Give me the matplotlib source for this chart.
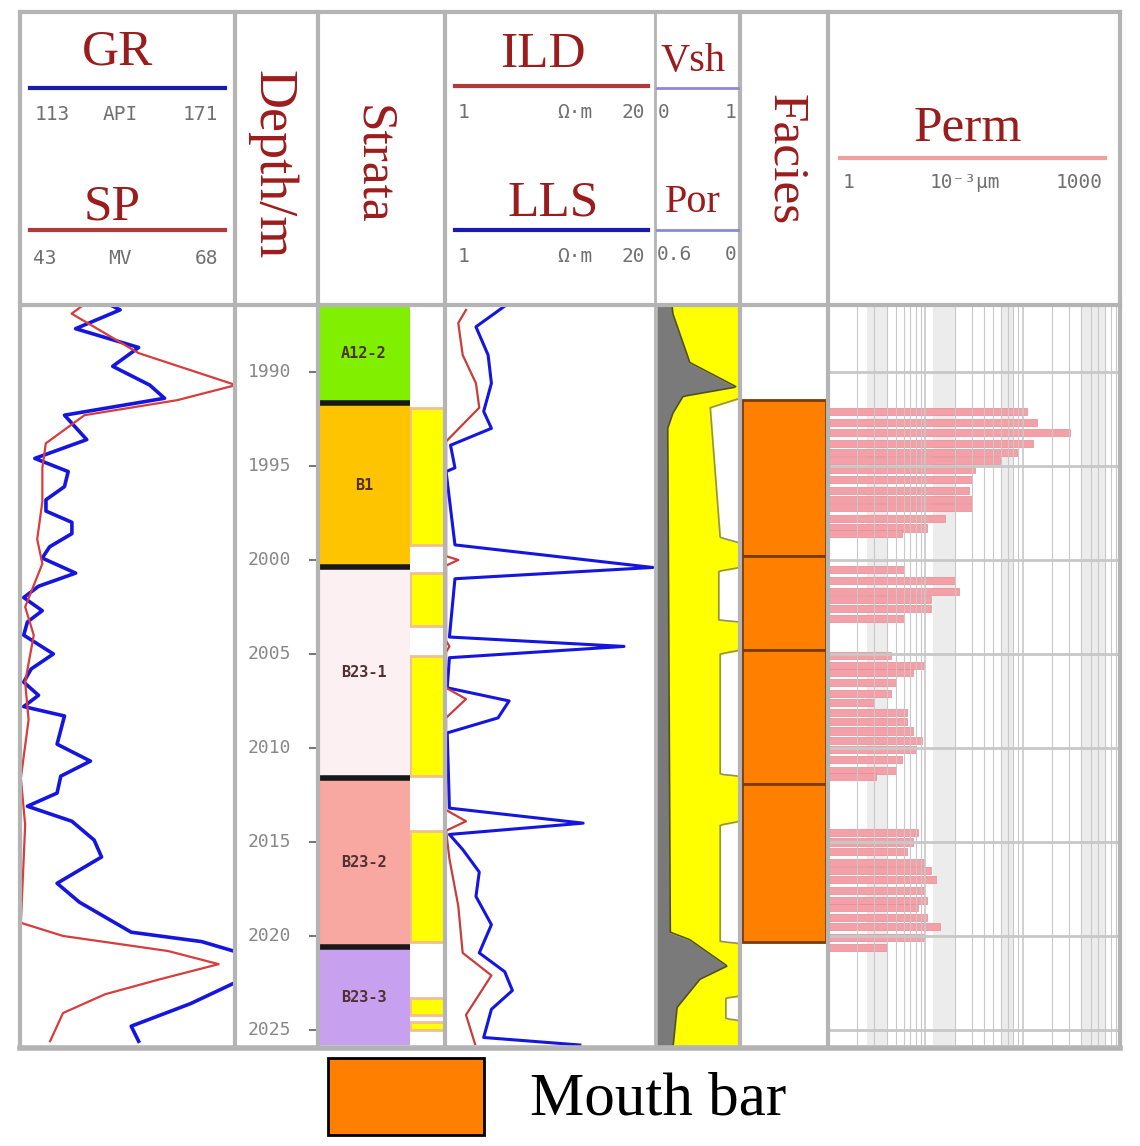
import numpy as np
import matplotlib.pyplot as plt
from matplotlib.lines import Line2D
from matplotlib.patches import Rectangle

# ---- data ----
gr_depth = [1986.5, 1986.7, 1987.7, 1988.7, 1989.7, 1990.7, 1991.4, 1992.3, 1993.6, 1994.6, 1995.3,
            1996.1, 1996.8, 1997.4, 1998.0, 1998.6, 1999.3, 1999.9, 2000.7, 2001.4, 2002.0, 2002.7,
            2003.3, 2004.0, 2005.0, 2005.8, 2006.5, 2007.2, 2007.8, 2008.3, 2009.8, 2010.7, 2011.5,
            2012.4, 2013.1, 2013.9, 2014.9, 2015.8, 2017.2, 2018.2, 2019.8, 2020.3, 2021.0, 2022.3,
            2023.6, 2024.8, 2025.6]
gr_api = [138, 140, 128, 145, 138, 148, 152, 125, 131, 117, 126,
          125, 120, 120, 127, 127, 121, 119, 128, 118, 114, 119,
          115, 114, 122, 116, 114, 118, 114, 125, 123, 132, 124,
          123, 115, 127, 133, 135, 123, 129, 143, 162, 174, 173,
          159, 143, 145]
sp_depth = [1986.4, 1986.9, 1989.0, 1990.7, 1991.5, 1992.3, 1993.8, 1995.1, 1996.9, 1998.9, 2000.2,
            2002.5, 2004.0, 2006.5, 2008.5, 2011.6, 2014.1, 2019.3, 2020.0, 2020.8, 2021.5, 2022.3,
            2023.1, 2024.1, 2025.6]
sp_mv = [50.5, 49.0, 56.8, 68.1, 61.3, 50.5, 46.0, 45.6, 45.6, 45.0, 45.6,
         43.6, 44.6, 43.6, 44.0, 43.1, 43.6, 43.1, 48.0, 60.2, 66.1, 59.3,
         52.9, 48.0, 46.5]
lls_depth = [1986.5, 1987.6, 1989.1, 1990.6, 1992.1, 1993.0, 1993.9, 1995.1, 1995.3, 1999.2,
             2000.4, 2001.0, 2004.1, 2004.6, 2005.2, 2006.8, 2007.5, 2008.4, 2009.2, 2013.2,
             2014.0, 2014.6, 2015.4, 2016.6, 2017.9, 2019.4, 2020.9, 2021.9, 2022.9, 2023.9,
             2025.4, 2025.8]
lls_ohm = [6.4, 3.8, 4.9, 5.2, 4.5, 5.2, 1.5, 1.9, 1.1, 1.9,
           19.8, 1.9, 1.4, 17.2, 1.4, 1.2, 6.8, 5.8, 1.2, 1.4,
           13.5, 1.4, 2.6, 4.1, 3.8, 5.2, 4.1, 6.4, 7.1, 5.2,
           4.5, 13.2]
ild_depth = [1986.7, 1987.4, 1989.1, 1990.6, 1991.9, 1993.7, 1999.8, 2000.0, 2000.3, 2004.3,
             2004.6, 2004.9, 2006.8, 2007.4, 2008.4, 2013.3, 2013.9, 2014.4, 2015.9, 2018.4,
             2020.9, 2022.1, 2024.2, 2025.9]
ild_ohm = [2.9, 2.2, 2.6, 3.8, 4.1, 1.1, 1.1, 2.2, 1.1, 1.1,
           1.4, 1.1, 1.1, 2.9, 1.1, 1.1, 2.9, 1.1, 1.4, 2.2,
           2.6, 5.2, 2.9, 3.8]
vsh_depth = [1986.4, 1986.9, 1989.5, 1990.8, 1991.3, 1992.2, 1993.0, 2019.8, 2020.2, 2021.6,
             2022.3, 2023.8, 2026.0]
vsh = [0.20, 0.21, 0.41, 0.96, 0.33, 0.21, 0.15, 0.18, 0.41, 0.85, 0.53, 0.26, 0.21]
por_depth = [1986.4, 1991.4, 1991.9, 1998.8, 1999.1, 2000.4, 2000.6, 2003.2, 2003.3, 2004.8,
             2005.0, 2011.4, 2011.5, 2013.9, 2014.1, 2020.3, 2020.4, 2023.2, 2023.3, 2024.4,
             2024.5, 2026.0]
por = [0, 0, 0.21, 0.14, 0, 0, 0.15, 0.15, 0, 0,
       0.14, 0.14, 0, 0, 0.14, 0.14, 0, 0, 0.10, 0.10,
       0, 0]
perm_depth = [1992.1, 1992.7, 1993.2, 1993.8, 1994.3, 1994.7, 1995.2, 1995.7, 1996.3, 1996.8,
              1997.2, 1997.8, 1998.3, 1998.6, 2000.5, 2001.1, 2001.7, 2002.1, 2002.6, 2003.1,
              2005.1, 2005.6, 2006.0, 2006.5, 2007.1, 2007.6, 2008.1, 2008.6, 2009.1, 2009.6,
              2010.1, 2010.6, 2011.2, 2011.5, 2014.5, 2015.0, 2015.5, 2016.1, 2016.5, 2017.0,
              2017.6, 2018.1, 2018.5, 2019.0, 2019.5, 2020.1, 2020.6]
perm = [111, 140, 306, 128, 87, 58, 31, 29, 27, 29,
        29, 15, 9.5, 4.7, 5.1, 19, 21, 10.4, 10.4, 5.1,
        3.4, 8.8, 6.5, 4.0, 3.4, 2.0, 5.5, 5.5, 6.5, 8.2,
        7.0, 4.7, 4.0, 2.1, 7.5, 6.5, 5.5, 8.8, 10.4, 12,
        8.8, 9.5, 7.5, 9.5, 13, 8.8, 2.9]
strata_names = ["A12-2", "B1", "B23-1", "B23-2", "B23-3"]
strata_top = [1986.4, 1991.65, 2000.4, 2011.6, 2020.6]
strata_base = [1991.65, 2000.4, 2011.6, 2020.6, 2026.0]
strata_colors = ["#80f000", "#ffc400", "#fdf0f2", "#f8a8a0", "#c8a0f0"]
sand_top = [1991.9, 2000.7, 2005.1, 2014.4, 2023.3, 2024.6]
sand_base = [1999.2, 2003.5, 2011.5, 2020.3, 2024.2, 2025.0]
facies_top = [1991.5, 1999.8, 2004.8, 2011.9]
facies_base = [1999.8, 2004.8, 2011.9, 2020.3]
depth_ticks = [1990, 1995, 2000, 2005, 2010, 2015, 2020, 2025]

W, H = 1140, 1146
DTOP, DBOT = 1986.44, 2025.8
YTOP, YBOT = 305, 1045
RED = "#9b1c1c"
SERIF = "Liberation Serif"
GREY = "#b4b4b4"

fig = plt.figure(figsize=(W / 100, H / 100), dpi=100)


def ax_at(x0, x1, y0=YTOP, y1=YBOT):
    a = fig.add_axes([x0 / W, 1 - y1 / H, (x1 - x0) / W, (y1 - y0) / H])
    a.set_ylim(DBOT, DTOP)
    a.axis("off")
    return a


def ftxt(x, y, s, **kw):
    fig.text(x / W, 1 - y / H, s, **kw)


def fline(x0, y0, x1, y1, **kw):
    fig.add_artist(Line2D([x0 / W, x1 / W], [1 - y0 / H, 1 - y1 / H], **kw))


# GR / SP
ax = ax_at(20, 235)
ax.set_xlim(113, 171)
ax.plot(gr_api, gr_depth, color="#1515e0", lw=2.6)
ax2 = ax_at(20, 235)
ax2.set_xlim(43, 68)
ax2.plot(sp_mv, sp_depth, color="#d83c3c", lw=1.6)

# depth track
ax = ax_at(235, 318)
ax.set_xlim(0, 1)
for d in depth_ticks:
    ax.text(0.42, d, str(d), ha="center", va="center", fontsize=13, color="#888888",
            family="DejaVu Sans Mono")
    ax.plot([0.9, 0.97], [d, d], color="#777777", lw=1.5)

# strata
ax = ax_at(318, 410)
ax.set_xlim(0, 1)
for n, t, b, c in zip(strata_names, strata_top, strata_base, strata_colors):
    ax.add_patch(Rectangle((0, t), 1, b - t, color=c))
    ax.text(0.5, (t + b) / 2, n, ha="center", va="center", fontsize=11, color="#503030",
            family="DejaVu Sans Mono", weight="bold")
for t in strata_top[1:]:
    ax.plot([0, 1], [t, t], color="#181818", lw=4)
ax = ax_at(410, 445)
ax.set_xlim(0, 1)
for t, b in zip(sand_top, sand_base):
    ax.add_patch(Rectangle((0, t), 1, b - t, facecolor="#ffff00", edgecolor="#f0c090", lw=2))

# resistivity
ax = ax_at(445, 655)
ax.set_xlim(1, 20)
ax.plot(lls_ohm, lls_depth, color="#1515e0", lw=2.2, clip_on=False)
ax.plot(ild_ohm, ild_depth, color="#c83c3c", lw=1.6)

# Vsh / Por
ax = ax_at(655, 740)
ax.set_xlim(0, 1)
dd = np.linspace(DTOP, DBOT, 800)
v = np.interp(dd, vsh_depth, vsh)
p = 1 - np.interp(dd, por_depth, por) / 0.6
ax.fill_betweenx(dd, 0.03, v, color="#7a7a7a")
ax.fill_betweenx(dd, v, p, color="#ffff00")
ax.plot(v, dd, color="#505028", lw=1.2)
ax.plot(p, dd, color="#909060", lw=1.2)

# facies
ax = ax_at(740, 828)
ax.set_xlim(0, 1)
for t, b in zip(facies_top, facies_base):
    ax.add_patch(Rectangle((0.02, t), 0.96, b - t, facecolor="#ff8000", edgecolor="#7a3a0a", lw=2))

# permeability
ax = ax_at(828, 1120)
ax.set_xscale("log")
ax.set_xlim(1, 1000)
for lo, hi in [(2.5, 4), (12, 20), (60, 80), (400, 700)]:
    ax.axvspan(lo, hi, color="#ececec", lw=0)
for dec in [1, 10, 100]:
    for m in range(1, 10):
        ax.axvline(dec * m, color="#c8c8c8", lw=1.2 if m == 1 else 0.8)
for d in depth_ticks:
    ax.axhline(d, color="#c8c8c8", lw=2)
ax.barh(perm_depth, perm, left=1, height=0.38, color="#f4a0a8", edgecolor="#e88890", lw=0.5)

# frame and track separators
for x in [235, 318, 445, 740, 828]:
    fline(x, 12, x, 1048, color=GREY, lw=3)
fline(655, 12, 655, 1048, color=GREY, lw=2)
fline(20, 12, 20, 1048, color=GREY, lw=3)
fline(1120, 12, 1120, 1048, color=GREY, lw=3)
fline(20, 12, 1120, 12, color=GREY, lw=3)
fline(20, 1048, 1120, 1048, color=GREY, lw=4)
fline(20, 305, 1120, 305, color=GREY, lw=3)

# header
ttl = dict(color=RED, family=SERIF, fontsize=37, ha="center", va="center")
scl = dict(color="#707070", family="DejaVu Sans Mono", fontsize=14, va="center")
ftxt(118, 52, "GR", **ttl)
fline(30, 88, 225, 88, color="#1a1ab0", lw=3)
ftxt(35, 115, "113", ha="left", **scl)
ftxt(120, 115, "API", ha="center", **scl)
ftxt(218, 115, "171", ha="right", **scl)
ftxt(112, 207, "SP", **ttl)
fline(30, 230, 225, 230, color="#b03a3a", lw=3)
ftxt(33, 258, "43", ha="left", **scl)
ftxt(120, 258, "MV", ha="center", **scl)
ftxt(218, 258, "68", ha="right", **scl)
ftxt(272, 165, "Depth/m", rotation=-90, **dict(ttl, fontsize=39))
ftxt(372, 165, "Strata", rotation=-90, **ttl)
ftxt(785, 160, "Facies", rotation=-90, **ttl)
ftxt(543, 55, "ILD", **ttl)
fline(455, 86, 648, 86, color="#b03a3a", lw=3)
ftxt(553, 203, "LLS", **ttl)
fline(455, 230, 648, 230, color="#1a1ab0", lw=3)
for y in (113, 256):
    ftxt(458, y, "1", ha="left", **scl)
    ftxt(575, y, "Ω·m", ha="center", **scl)
    ftxt(645, y, "20", ha="right", **scl)
ftxt(693, 62, "Vsh", **dict(ttl, fontsize=29))
fline(657, 88, 738, 88, color="#8a8ad8", lw=2)
ftxt(658, 112, "0", ha="left", **scl)
ftxt(736, 112, "1", ha="right", **scl)
ftxt(693, 202, "Por", **dict(ttl, fontsize=29))
fline(657, 230, 738, 230, color="#8a8ad8", lw=2)
ftxt(657, 255, "0.6", ha="left", **scl)
ftxt(736, 255, "0", ha="right", **scl)
ftxt(968, 128, "Perm", **ttl)
fline(840, 158, 1105, 158, color="#f0a0a0", lw=3)
ftxt(843, 183, "1", ha="left", **scl)
ftxt(965, 183, "10⁻³μm", ha="center", **scl)
ftxt(1103, 183, "1000", ha="right", **scl)

# legend
fig.add_artist(Rectangle((328 / W, 1 - 1135 / H), 156 / W, 77 / H, facecolor="#ff8000",
                         edgecolor="black", lw=2, transform=fig.transFigure))
ftxt(530, 1100, "Mouth bar", color="black", family=SERIF, fontsize=44, ha="left", va="center")

fig.savefig("out.png", dpi=100, facecolor="white")
